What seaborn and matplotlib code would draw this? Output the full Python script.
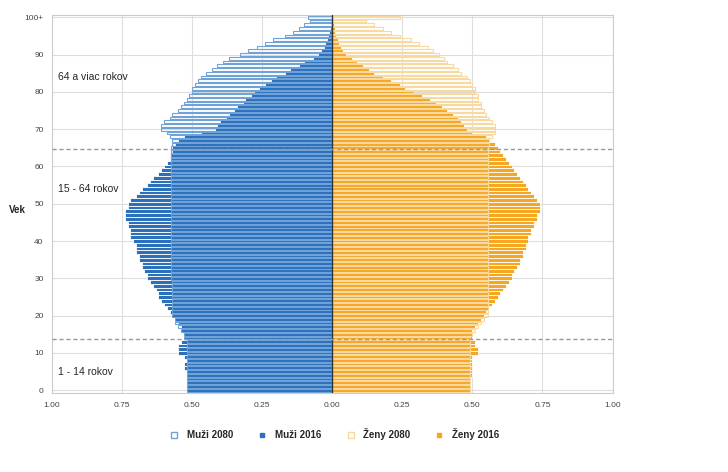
import numpy as np
import matplotlib
matplotlib.use("Agg")
import matplotlib.pyplot as plt
import seaborn as sns
from matplotlib.lines import Line2D

ages = list(range(101))
age_ticks = [0, 10, 20, 30, 40, 50, 60, 70, 80, 90, 100]
age_tick_labels = ["0", "10", "20", "30", "40", "50", "60", "70", "80", "90", "100+"]
x_ticks = [-1.0, -0.75, -0.5, -0.25, 0, 0.25, 0.5, 0.75, 1.0]
x_tick_labels = ["1.00", "0.75", "0.50", "0.25", "0.00", "0.25", "0.50", "0.75", "1.00"]

muzi_2016 = [.52,.52,.52,.52,.52,.52,.53,.53,.52,.53,
             .55,.55,.55,.54,.53,.53,.54,.54,.55,.56,
             .57,.58,.59,.60,.61,.62,.62,.63,.64,.65,
             .66,.66,.67,.68,.68,.69,.69,.70,.70,.70,
             .71,.72,.72,.72,.73,.73,.74,.74,.74,.73,
             .73,.72,.70,.69,.68,.66,.65,.64,.62,.61,
             .60,.59,.58,.58,.57,.57,.56,.55,.53,.47,
             .42,.41,.40,.38,.37,.35,.34,.32,.31,.29,
             .28,.26,.24,.22,.20,.17,.15,.12,.10,.07,
             .05,.04,.03,.025,.02,.015,.01,.008,.005,.003,
             .003]
muzi_2080 = [.52]*14 + [.53,.53,.54,.55,.56,.56,.57,.57,.57,.57,.57,.57,.57,.57,.57,.57] + [.575]*36 + \
            [.57,.57,.58,.59,
             .61,.61,.60,.58,.57,.55,.54,.53,.52,.51,
             .50,.50,.49,.48,.47,.45,.43,.41,.39,.37,
             .33,.30,.27,.24,.21,.17,.14,.12,.10,.08,
             .085]
zeny_2016 = [.49,.49,.49,.49,.50,.50,.50,.50,.50,.50,
             .52,.52,.51,.51,.50,.50,.50,.51,.52,.53,
             .54,.55,.56,.57,.58,.59,.60,.61,.62,.63,
             .64,.64,.65,.66,.67,.67,.68,.68,.69,.69,
             .70,.70,.71,.71,.72,.72,.73,.73,.74,.74,
             .74,.73,.72,.71,.70,.69,.68,.67,.66,.65,
             .64,.63,.62,.61,.60,.59,.58,.56,.55,.50,
             .48,.47,.46,.45,.43,.41,.39,.37,.35,.32,
             .29,.26,.24,.21,.18,.15,.13,.11,.09,.07,
             .05,.04,.03,.025,.02,.015,.01,.008,.005,.003,
             .003]
zeny_2080 = [.49]*15 + [.50,.51,.52,.53,.54] + [.555]*46 + \
            [.56,.56,.57,.58,
             .58,.58,.57,.56,.55,.54,.53,.53,.52,.52,
             .51,.51,.50,.49,.48,.46,.45,.43,.41,.40,
             .38,.36,.34,.31,.28,.24,.21,.18,.15,.12,
             .24]

sns.set_style("whitegrid")
plt.rcParams['font.family'] = ['Liberation Sans', 'DejaVu Sans']

dark_blue = "#2c6fbb"
light_blue = "#6fa3d8"
orange = "#f5a623"
light_orange = "#f8d9a0"

fig = plt.figure(figsize=(7.28, 4.72), dpi=100)
ax = fig.add_axes([0.0714, 0.167, 0.77, 0.801])

a = np.array(ages)
ax.barh(a, -np.array(muzi_2016), height=1.0, color=dark_blue, edgecolor="white", linewidth=0.6, zorder=2)
ax.barh(a, np.array(zeny_2016), height=1.0, color=orange, edgecolor="white", linewidth=0.6, zorder=2)
ax.barh(a, -np.array(muzi_2080), height=0.75, fill=False, edgecolor=light_blue, linewidth=0.8, zorder=3)
ax.barh(a, np.array(zeny_2080), height=0.75, fill=False, edgecolor=light_orange, linewidth=0.8, zorder=3)
ax.axvline(0, color="#333333", lw=1, zorder=4)
for yy in (13.8, 64.6):
    ax.axhline(yy, color="#999999", lw=1, ls=(0, (3, 2)), zorder=4)

ax.set_xlim(-1, 1)
ax.set_ylim(-0.8, 100.6)
ax.set_xticks(x_ticks)
ax.set_xticklabels(x_tick_labels, fontsize=6, color="#444444")
ax.set_yticks(age_ticks)
ax.set_yticklabels(age_tick_labels, fontsize=6, color="#444444")
ax.set_ylabel("Vek", fontsize=7, fontweight="bold", rotation=0)
ax.yaxis.set_label_coords(-0.062, 0.47)
ax.grid(True, color="#dddddd", lw=0.8)
for s in ax.spines.values():
    s.set_color("#cccccc")
ax.tick_params(length=0, pad=6)

ax.text(-0.98, 84, "64 a viac rokov", fontsize=7.5, va="center", zorder=5)
ax.text(-0.98, 54, "15 - 64 rokov", fontsize=7.5, va="center", zorder=5)
ax.text(-0.98, 5, "1 - 14 rokov", fontsize=7.5, va="center", zorder=5)

handles = [
    Line2D([], [], marker="s", ls="", markerfacecolor="white", markeredgecolor=light_blue, markersize=4),
    Line2D([], [], marker="s", ls="", color=dark_blue, markersize=3),
    Line2D([], [], marker="s", ls="", markerfacecolor="white", markeredgecolor=light_orange, markersize=4),
    Line2D([], [], marker="s", ls="", color=orange, markersize=3),
]
fig.legend(handles, ["Muži 2080", "Muži 2016", "Ženy 2080", "Ženy 2016"], loc="center",
           bbox_to_anchor=(0.456, 0.08), ncol=4, frameon=False, fontsize=7,
           handletextpad=0.3, columnspacing=2.0, prop={"weight": "bold", "size": 7})

fig.savefig("out.png", dpi=100)
